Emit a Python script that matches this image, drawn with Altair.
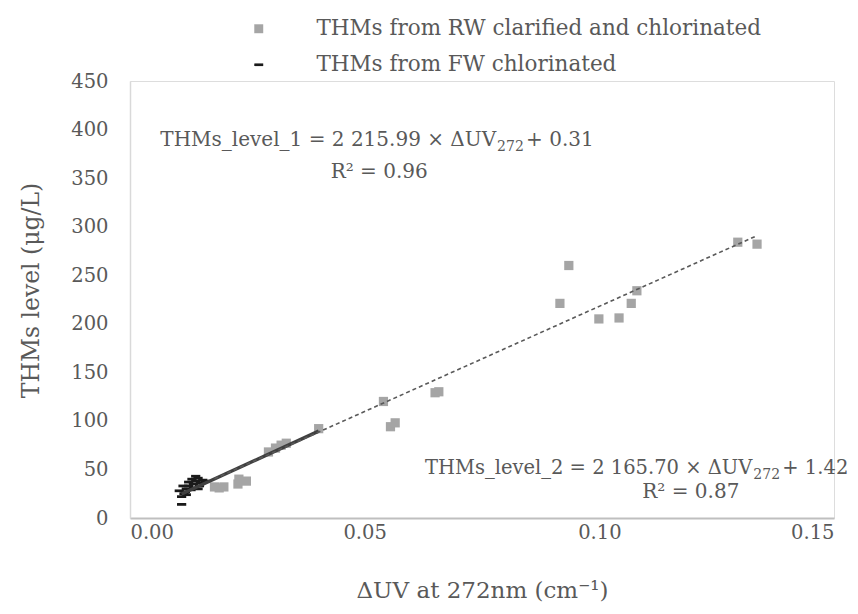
import altair as alt
import pandas as pd

# ---- data ----
series_names = ["THMs from RW clarified and chlorinated", "THMs from FW chlorinated"]

rw_x = [0.1295, 0.1336, 0.0935, 0.0916, 0.1080, 0.1068, 0.0999, 0.1042,
        0.0540, 0.0555, 0.0565, 0.0650, 0.0658, 0.0402,
        0.0295, 0.0310, 0.0322, 0.0333,
        0.0180, 0.0190, 0.0200, 0.0230, 0.0232, 0.0248]
rw_y = [284, 282, 260, 221, 234, 221, 205, 206,
        120, 94, 98, 129, 130, 92,
        68, 72, 75, 77,
        32, 31, 32, 35, 40, 38]

fw_x = [0.0105, 0.0110, 0.0115, 0.0120, 0.0125, 0.0130, 0.0135, 0.0140,
        0.0145, 0.0150, 0.0110, 0.0118, 0.0125, 0.0132, 0.0140, 0.0148,
        0.0155, 0.0120, 0.0135, 0.0145, 0.0160, 0.0113]
fw_y = [28, 14, 25, 30, 33, 29, 35, 38,
        41, 36, 22, 27, 37, 40, 43, 33,
        39, 24, 31, 30, 38, 33]

# trend lines (coefficients printed on the chart) and their x extents
fit_names = ["fit1", "fit2"]
fit_slope = [2215.99, 2165.70]
fit_intercept = [0.31, 1.42]
fit_x0 = [0.0110, 0.0180]
fit_x1 = [0.0402, 0.1336]

# equation labels: main part, subscript, tail, anchor (x, y)
eq_main = ["THMs_level_1 = 2 215.99 × ΔUV", "THMs_level_2 = 2 165.70 × ΔUV"]
eq_sub = ["272", "272"]
eq_tail = ["+ 0.31", "+ 1.42"]
eq_x = [0.0780, 0.1326]
eq_y = [389, 51]
eq_fs = [20, 19.5]
r2_text = ["R² = 0.96", "R² = 0.87"]
r2_x = [0.0531, 0.1195]
r2_y = [356, 27]

x_ticks = [0.00, 0.05, 0.10, 0.15]
y_ticks = [0, 50, 100, 150, 200, 250, 300, 350, 400, 450]

# ---- tables ----
pts = pd.DataFrame({
    "x": rw_x + fw_x,
    "y": rw_y + fw_y,
    "series": [series_names[0]] * len(rw_x) + [series_names[1]] * len(fw_x),
})

rows = []
for n, m, b, a0, a1 in zip(fit_names, fit_slope, fit_intercept, fit_x0, fit_x1):
    rows.append({"fit": n, "x": a0, "y": m * a0 + b})
    rows.append({"fit": n, "x": a1, "y": m * a1 + b})
lines = pd.DataFrame(rows)

eqs = pd.DataFrame({"main": eq_main, "sub": eq_sub, "tail": eq_tail,
                    "x": eq_x, "y": eq_y, "fs": eq_fs})
r2 = pd.DataFrame({"t": r2_text, "x": r2_x, "y": r2_y})

TXT = "#595959"
FONT = "DejaVu Serif"
FS = 20
dash_path = "M-1,-0.3L1,-0.3L1,0.3L-1,0.3Z"

xs = alt.Scale(domain=[0, 0.15], nice=False, zero=False)
ys = alt.Scale(domain=[0, 450], nice=False)

xax = alt.Axis(values=x_ticks, format=".2f", grid=False, ticks=False,
               domainColor="#BFBFBF", domainWidth=2, labelPadding=5,
               labelFontSize=19.5, labelColor=TXT, labelFont=FONT,
               title="ΔUV at 272nm (cm⁻¹)", titleFontSize=23, titleColor=TXT,
               titleFont=FONT, titleFontWeight="normal", titlePadding=38)
yax = alt.Axis(values=y_ticks, grid=False, ticks=False,
               domainColor="#D9D9D9", domainWidth=1.5, labelPadding=22,
               labelFontSize=19.5, labelColor=TXT, labelFont=FONT,
               title="THMs level (μg/L)", titleFontSize=23.5, titleColor=TXT,
               titleFont=FONT, titleFontWeight="normal", titlePadding=27, titleY=209)

points = alt.Chart(pts).mark_point(filled=True, opacity=1, size=85).encode(
    x=alt.X("x:Q", scale=xs, axis=xax),
    y=alt.Y("y:Q", scale=ys, axis=yax),
    color=alt.Color("series:N",
                    scale=alt.Scale(domain=series_names, range=["#A5A5A5", "#1A1A1A"]),
                    legend=alt.Legend(title=None, orient="none", legendX=118, legendY=-63,
                                      labelFontSize=21.5, labelColor=TXT, labelFont=FONT,
                                      labelOffset=47, rowPadding=13, symbolSize=80,
                                      symbolOpacity=1, labelLimit=0)),
    shape=alt.Shape("series:N",
                    scale=alt.Scale(domain=series_names, range=["square", dash_path])),
)

solid = alt.Chart(lines).transform_filter(alt.datum.fit == "fit1").mark_line(
    color="#404040", strokeWidth=3.5).encode(x=alt.X("x:Q", scale=xs), y=alt.Y("y:Q", scale=ys))
dashed = alt.Chart(lines).transform_filter(alt.datum.fit == "fit2").mark_line(
    color="#595959", strokeWidth=1.6, strokeDash=[4, 3]).encode(
    x=alt.X("x:Q", scale=xs), y=alt.Y("y:Q", scale=ys))

base_eq = alt.Chart(eqs).encode(x=alt.X("x:Q", scale=xs), y=alt.Y("y:Q", scale=ys),
                                size=alt.Size("fs:Q", scale=None, legend=None))
eq_a = base_eq.mark_text(color=TXT, font=FONT, align="right",
                         baseline="middle").encode(text="main:N")
eq_b = base_eq.mark_text(fontSize=14, color=TXT, font=FONT, align="left",
                         baseline="middle", dx=1, dy=7).encode(
    text="sub:N", size=alt.value(14))
eq_c = base_eq.mark_text(color=TXT, font=FONT, align="left",
                         baseline="middle", dx=30).encode(text="tail:N")
r2_t = alt.Chart(r2).mark_text(fontSize=FS, color=TXT, font=FONT, align="center",
                               baseline="middle").encode(
    x=alt.X("x:Q", scale=xs), y=alt.Y("y:Q", scale=ys), text="t:N")

chart = alt.layer(points, solid, dashed, eq_a, eq_b, eq_c, r2_t).properties(
    width=704, height=437,
    autosize=alt.AutoSizeParams(type="none"),
    padding={"left": 122, "top": 73, "right": 16, "bottom": 88},
).configure_view(stroke=None).configure(background="white")

chart.save("out.html", embed_options={"renderer": "svg", "actions": False})
